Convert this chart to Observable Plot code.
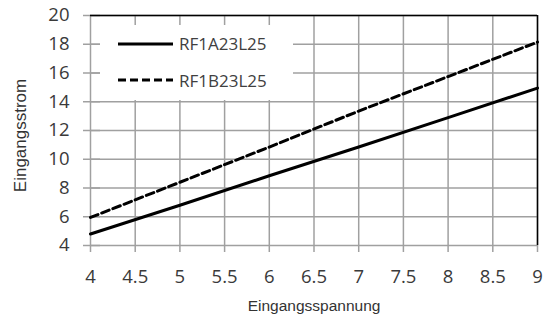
<!DOCTYPE html>
<html>
<head>
<meta charset="utf-8">
<script src="https://cdn.jsdelivr.net/npm/d3@7"></script>
<script src="https://cdn.jsdelivr.net/npm/@observablehq/plot@0.6"></script>
<style>
  body { margin: 0; background: #fff; }
  #wrap { position: relative; width: 544px; height: 321px; }
  #legend { position: absolute; left: 100px; top: 25px; width: 193px; height: 75px; background: #fff;
            font-family: "Open Sans", sans-serif; font-size: 17px; color: #404040; }
  .row { position: absolute; left: 18px; height: 20px; display: flex; align-items: center; white-space: nowrap; }
  .row span { margin-left: 6px; }
</style>
</head>
<body>
<div id="wrap"></div>
<script>
// Data
const voltage  = [4, 5, 6, 7, 8, 9];
const currentA = [4.8, 6.8, 8.85, 10.85, 12.9, 14.95];   // RF1A23L25 (solid)
const currentB = [5.95, 8.4, 10.85, 13.35, 15.75, 18.15]; // RF1B23L25 (dashed)
const seriesNames = ["RF1A23L25", "RF1B23L25"];
const xTicks = [4, 4.5, 5, 5.5, 6, 6.5, 7, 7.5, 8, 8.5, 9];
const yTicks = [4, 6, 8, 10, 12, 14, 16, 18, 20];
const xTitle = "Eingangsspannung";
const yTitle = "Eingangsstrom";

const rowsA = voltage.map((v, i) => ({v, c: currentA[i]}));
const rowsB = voltage.map((v, i) => ({v, c: currentB[i]}));

const gridColor = "#a0a0a0";
const textColor = "#3a3a3a";

const chart = Plot.plot({
  width: 544,
  height: 321,
  marginLeft: 90,
  marginRight: 7,
  marginTop: 15,
  marginBottom: 76,
  style: {fontFamily: "Open Sans", background: "#fff"},
  x: {domain: [4, 9]},
  y: {domain: [4, 20]},
  marks: [
    Plot.gridX(xTicks, {stroke: gridColor, strokeOpacity: 1, strokeWidth: 1.5}),
    Plot.gridY(yTicks, {stroke: gridColor, strokeOpacity: 1, strokeWidth: 1.5}),
    Plot.axisX({ticks: xTicks, tickSize: 7, tickPadding: 17, tickFormat: d => String(d),
                fontSize: 18.5, fontFamily: "Open Sans", stroke: gridColor, strokeWidth: 1.5, fill: textColor, label: null}),
    Plot.axisY({ticks: yTicks, tickSize: 7, tickPadding: 14, tickFormat: d => String(d),
                fontSize: 18.5, fontFamily: "Open Sans", stroke: gridColor, strokeWidth: 1.5, fill: textColor, label: null}),
    Plot.axisY({ticks: yTicks, tickSize: 10, dx: 10, tickFormat: () => "",
                stroke: gridColor, strokeWidth: 1.5, label: null}),
    Plot.ruleY([20], {stroke: "#000", strokeWidth: 1.5}),
    Plot.ruleX([9], {stroke: "#000", strokeWidth: 1.5}),
    Plot.line(rowsA, {x: "v", y: "c", stroke: "#000", strokeWidth: 3}),
    Plot.line(rowsB, {x: "v", y: "c", stroke: "#000", strokeWidth: 3, strokeDasharray: "8,4"}),
    Plot.text([xTitle], {frameAnchor: "bottom", dy: 61, lineAnchor: "middle", textAnchor: "middle",
                         fontSize: 15.5, fontFamily: "Liberation Sans", fill: "#333"}),
    Plot.text([yTitle], {frameAnchor: "left", rotate: -90, dx: -70, dy: 5, lineAnchor: "middle", textAnchor: "middle",
                         fontSize: 17, fontFamily: "Liberation Sans", fill: "#333"})
  ]
});

const wrap = document.getElementById("wrap");
wrap.appendChild(chart);

// Legend overlay (white box over the plot area, as in the reference)
const legend = document.createElement("div");
legend.id = "legend";
const dashes = ["", "8,4"];
const rowTops = [8.7, 45];
seriesNames.forEach((name, i) => {
  const row = document.createElement("div");
  row.className = "row";
  row.style.top = rowTops[i] + "px";
  row.innerHTML = `<svg width="55" height="20"><line x1="0" x2="55" y1="10" y2="10" stroke="#000" stroke-width="3"${dashes[i] ? ` stroke-dasharray="${dashes[i]}"` : ""}/></svg><span>${name}</span>`;
  legend.appendChild(row);
});
wrap.appendChild(legend);
</script>
</body>
</html>
